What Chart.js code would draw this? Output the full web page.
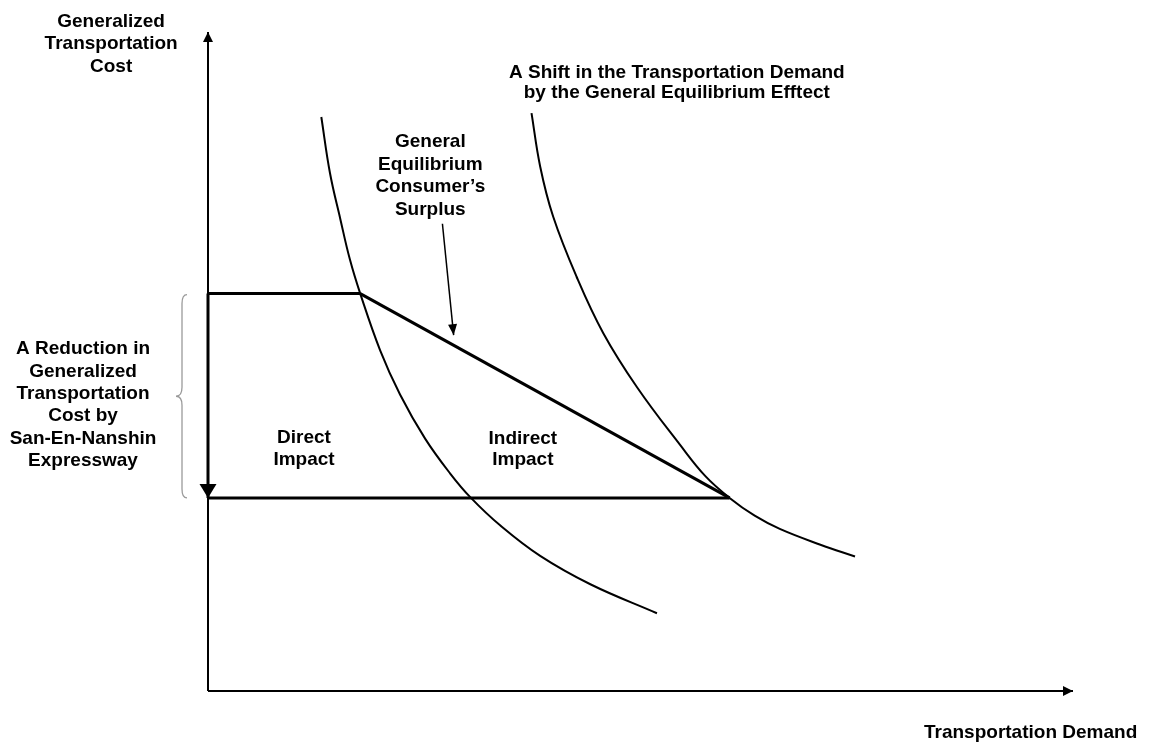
<!DOCTYPE html>
<html>
<head>
<meta charset="utf-8">
<script src="https://cdn.jsdelivr.net/npm/chart.js@4/dist/chart.umd.min.js"></script>
<style>
  html, body { margin: 0; padding: 0; background: #fff; }
  canvas { display: block; }
</style>
</head>
<body>
<canvas id="diagram" width="1150" height="746"></canvas>
<script>
// x = transportation demand, y = generalized transportation cost (0-100 units)
const baseDemandQ = [13.1, 14.1, 15.3, 16.4, 17.6, 19.9, 22.2, 25.1, 28.0, 30.4, 33.8, 38.4, 44.2, 51.9];
const baseDemandP = [87.1, 78.6, 71.6, 65.5, 60.3, 51.7, 45.0, 38.3, 33.0, 29.3, 25.1, 20.5, 16.2, 11.8];

const shiftedDemandQ = [37.4, 38.4, 39.9, 42.6, 45.7, 49.6, 54.6, 57.5, 60.3, 63.2, 66.1, 70.8, 74.8];
const shiftedDemandP = [87.7, 79.6, 72.0, 62.9, 54.3, 46.1, 37.3, 32.6, 29.3, 26.6, 24.6, 22.2, 20.4];

const costBefore = 60.3;   // cost without the expressway
const costAfter = 29.3;    // cost with the expressway
const demandBefore = 17.6; // demand at old cost, base curve
const demandAfter = 60.3;  // demand at new cost, shifted curve

const surplusPointer = [[27.1, 70.9], [28.4, 54.0]];

// text blocks: lines, centre x, first baseline y (data units), line height px
const notes = [
  { lines: ['Generalized', 'Transportation', 'Cost'], x: -11.2, y: 100.8, lh: 22.5 },
  { lines: ['Transportation Demand'], x: 95.1, y: -7.2, lh: 22 },
  { lines: ['A Shift in the Transportation Demand', 'by the General Equilibrium Efftect'], x: 54.2, y: 93.0, lh: 19.5 },
  { lines: ['General', 'Equilibrium', 'Consumer\u2019s', 'Surplus'], x: 25.7, y: 82.5, lh: 22.5 },
  { lines: ['A Reduction in', 'Generalized', 'Transportation', 'Cost by', 'San-En-Nanshin', 'Expressway'], x: -14.45, y: 51.1, lh: 22.4 },
  { lines: ['Direct', 'Impact'], x: 11.1, y: 37.6, lh: 22 },
  { lines: ['Indirect', 'Impact'], x: 36.4, y: 37.5, lh: 21.5 }
];

const toPoints = (xs, ys) => xs.map((x, i) => ({ x: x, y: ys[i] }));

function line(points, width, extra) {
  return Object.assign({
    data: points,
    showLine: true,
    borderColor: '#000',
    backgroundColor: '#000',
    borderWidth: width,
    pointRadius: 0,
    fill: false,
    clip: false
  }, extra || {});
}

// filled arrow heads at the last point of datasets that ask for one
const arrowHeads = {
  id: 'arrowHeads',
  afterDatasetsDraw(chart) {
    const ctx = chart.ctx;
    chart.data.datasets.forEach((ds, i) => {
      if (!ds.arrow) return;
      const pts = chart.getDatasetMeta(i).data;
      const a = pts[pts.length - 2], b = pts[pts.length - 1];
      const ang = Math.atan2(b.y - a.y, b.x - a.x);
      ctx.save();
      ctx.translate(b.x, b.y);
      ctx.rotate(ang);
      ctx.beginPath();
      ctx.moveTo(0, 0);
      ctx.lineTo(-ds.arrow.len, -ds.arrow.w / 2);
      ctx.lineTo(-ds.arrow.len, ds.arrow.w / 2);
      ctx.closePath();
      ctx.fillStyle = '#000';
      ctx.fill();
      ctx.restore();
    });
  }
};

// curly brace and text
const annotations = {
  id: 'annotations',
  afterDraw(chart) {
    const ctx = chart.ctx;
    const xs = chart.scales.x, ys = chart.scales.y;
    const ax = xs.getPixelForValue(0);
    const top = ys.getPixelForValue(costBefore) + 1;
    const bot = ys.getPixelForValue(costAfter);
    const mid = (top + bot) / 2;
    const bx = ax - 26, tip = ax - 32, ex = ax - 21;
    ctx.save();
    ctx.strokeStyle = '#9a9a9a';
    ctx.lineWidth = 1.3;
    ctx.beginPath();
    ctx.moveTo(ex, top);
    ctx.quadraticCurveTo(bx, top, bx, top + 9);
    ctx.lineTo(bx, mid - 9);
    ctx.quadraticCurveTo(bx, mid, tip, mid);
    ctx.quadraticCurveTo(bx, mid, bx, mid + 9);
    ctx.lineTo(bx, bot - 9);
    ctx.quadraticCurveTo(bx, bot, ex, bot);
    ctx.stroke();

    ctx.fillStyle = '#000';
    ctx.font = 'bold 19px "Liberation Sans", Arial, sans-serif';
    ctx.textAlign = 'center';
    ctx.textBaseline = 'alphabetic';
    notes.forEach(n => {
      const px = xs.getPixelForValue(n.x);
      const py = ys.getPixelForValue(n.y);
      n.lines.forEach((t, k) => ctx.fillText(t, px, py + k * n.lh));
    });
    ctx.restore();
  }
};

const datasets = [
  line([{ x: 0, y: 0 }, { x: 0, y: 100 }], 2, { arrow: { len: 10, w: 10 } }),
  line([{ x: 0, y: 0 }, { x: 100, y: 0 }], 2, { arrow: { len: 10, w: 10 } }),
  line(toPoints(baseDemandQ, baseDemandP), 2, { tension: 0.4 }),
  line(toPoints(shiftedDemandQ, shiftedDemandP), 2, { tension: 0.4 }),
  line([{ x: 0, y: costBefore }, { x: demandBefore, y: costBefore }], 3),
  line([{ x: 0, y: costAfter }, { x: demandAfter, y: costAfter }], 3),
  line([{ x: demandBefore, y: costBefore }, { x: demandAfter, y: costAfter }], 3),
  line([{ x: 0, y: costBefore }, { x: 0, y: costAfter }], 3, { arrow: { len: 14, w: 17 } }),
  line(surplusPointer.map(p => ({ x: p[0], y: p[1] })), 1.5, { arrow: { len: 11, w: 9 } })
];

new Chart(document.getElementById('diagram'), {
  type: 'scatter',
  data: { datasets: datasets },
  options: {
    responsive: false,
    animation: false,
    devicePixelRatio: 1,
    layout: { padding: { left: 208, right: 77, top: 32, bottom: 55 } },
    scales: {
      x: { type: 'linear', min: 0, max: 100, display: false },
      y: { type: 'linear', min: 0, max: 100, display: false }
    },
    plugins: {
      legend: { display: false },
      tooltip: { enabled: false }
    }
  },
  plugins: [arrowHeads, annotations]
});
</script>
</body>
</html>
